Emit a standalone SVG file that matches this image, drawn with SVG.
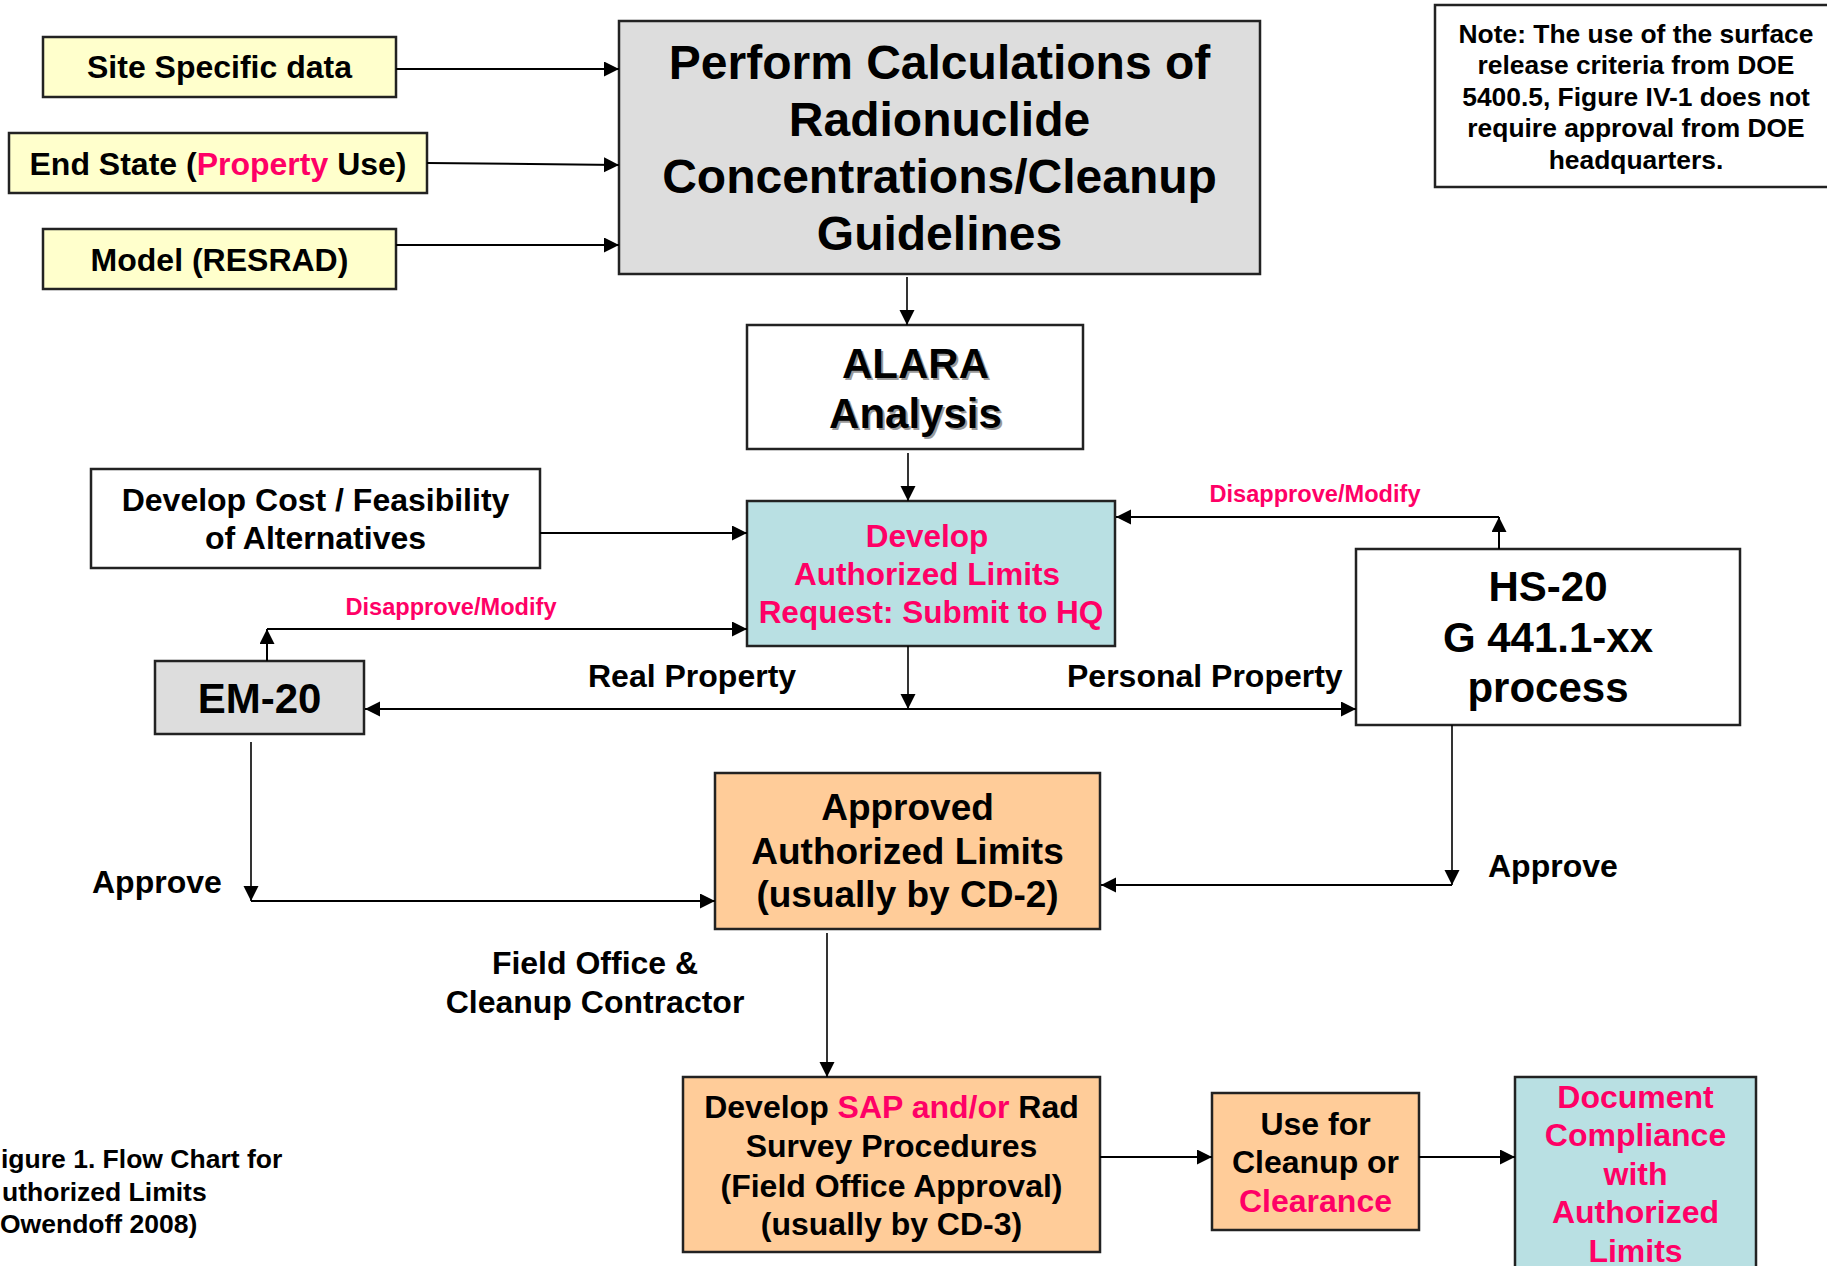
<svg xmlns="http://www.w3.org/2000/svg" width="1827" height="1266" viewBox="0 0 1827 1266">
<defs>
<marker id="ah" markerUnits="userSpaceOnUse" markerWidth="16" markerHeight="16" refX="15" refY="7.5" orient="auto">
<path d="M0,0 L15,7.5 L0,15 z" fill="#000"/>
</marker>
<style>
text{font-family:"Liberation Sans",Arial,Helvetica,sans-serif;font-weight:bold;fill:#000}
.box{stroke:#222;stroke-width:2.5}
.yel{fill:#FFFFCC}
.gry{fill:#DDDDDD}
.wht{fill:#FFFFFF}
.cyn{fill:#B9E0E3}
.org{fill:#FFCC99}
.pk{fill:#FF0066}
.c{text-anchor:middle}
.conn path{fill:none;stroke:#000;stroke-width:2}
.arr{marker-end:url(#ah)}
.shadow{fill:#9a9a9a}
</style>
</defs>
<rect x="0" y="0" width="1827" height="1266" fill="#FFFFFF"/>

<g id="site-data">
<rect class="box yel" x="43" y="37" width="353" height="60"/>
<text class="c" x="219.5" y="78" font-size="32">Site Specific data</text>
</g>
<g id="end-state">
<rect class="box yel" x="9" y="133" width="418" height="60"/>
<text class="c" x="218" y="175" font-size="32">End State (<tspan class="pk">Property</tspan> Use)</text>
</g>
<g id="model">
<rect class="box yel" x="43" y="229" width="353" height="60"/>
<text class="c" x="219.5" y="271" font-size="32">Model (RESRAD)</text>
</g>

<g id="perform-calc">
<rect class="box gry" x="619" y="21" width="641" height="253"/>
<text class="c" x="939.5" y="79" font-size="48">Perform Calculations of</text>
<text class="c" x="939.5" y="136" font-size="48">Radionuclide</text>
<text class="c" x="939.5" y="193" font-size="48">Concentrations/Cleanup</text>
<text class="c" x="939.5" y="250" font-size="48">Guidelines</text>
</g>

<g id="note">
<rect class="box wht" x="1435" y="5" width="400" height="182"/>
<text class="c" x="1636" y="43" font-size="26.4">Note: The use of the surface</text>
<text class="c" x="1636" y="74" font-size="26.4">release criteria from DOE</text>
<text class="c" x="1636" y="106" font-size="26.4">5400.5, Figure IV-1 does not</text>
<text class="c" x="1636" y="137" font-size="26.4">require approval from DOE</text>
<text class="c" x="1636" y="169" font-size="26.4">headquarters.</text>
</g>

<g id="alara">
<rect class="box wht" x="747" y="325" width="336" height="124"/>
<text class="c shadow" x="917.5" y="379.5" font-size="42">ALARA</text>
<text class="c shadow" x="917.5" y="429.5" font-size="42">Analysis</text>
<text class="c" x="915.5" y="377.5" font-size="42">ALARA</text>
<text class="c" x="915.5" y="427.5" font-size="42">Analysis</text>
</g>

<g id="develop-cost">
<rect class="box wht" x="91" y="469" width="449" height="99"/>
<text class="c" x="315.5" y="511" font-size="32">Develop Cost / Feasibility</text>
<text class="c" x="315.5" y="549" font-size="32">of Alternatives</text>
</g>

<g id="develop-limits">
<rect class="box cyn" x="747" y="501" width="368" height="145"/>
<text class="c pk" x="927" y="547" font-size="31.5">Develop</text>
<text class="c pk" x="927" y="585" font-size="31.5">Authorized Limits</text>
<text class="c pk" x="931" y="623" font-size="31.5">Request: Submit to HQ</text>
</g>

<g id="hs20">
<rect class="box wht" x="1356" y="549" width="384" height="176"/>
<text class="c" x="1548" y="601" font-size="42">HS-20</text>
<text class="c" x="1548" y="652" font-size="42">G 441.1-xx</text>
<text class="c" x="1548" y="702" font-size="42">process</text>
</g>

<g id="em20">
<rect class="box gry" x="155" y="661" width="209" height="73"/>
<text class="c" x="259.5" y="713" font-size="42">EM-20</text>
</g>

<g id="approved-limits">
<rect class="box org" x="715" y="773" width="385" height="156"/>
<text class="c" x="907.5" y="820" font-size="37">Approved</text>
<text class="c" x="907.5" y="864" font-size="37">Authorized Limits</text>
<text class="c" x="907.5" y="907" font-size="37">(usually by CD-2)</text>
</g>

<g id="develop-sap">
<rect class="box org" x="683" y="1077" width="417" height="175"/>
<text class="c" x="891.5" y="1118" font-size="32">Develop <tspan class="pk">SAP and/or</tspan> Rad</text>
<text class="c" x="891.5" y="1157" font-size="32">Survey Procedures</text>
<text class="c" x="891.5" y="1197" font-size="32">(Field Office Approval)</text>
<text class="c" x="891.5" y="1235" font-size="32">(usually by CD-3)</text>
</g>

<g id="use-for-cleanup">
<rect class="box org" x="1212" y="1093" width="207" height="137"/>
<text class="c" x="1315.5" y="1135" font-size="32">Use for</text>
<text class="c" x="1315.5" y="1173" font-size="32">Cleanup or</text>
<text class="c pk" x="1315.5" y="1212" font-size="32">Clearance</text>
</g>

<g id="document-compliance">
<rect class="box cyn" x="1515" y="1077" width="241" height="200"/>
<text class="c pk" x="1635.5" y="1108" font-size="32">Document</text>
<text class="c pk" x="1635.5" y="1146" font-size="32">Compliance</text>
<text class="c pk" x="1635.5" y="1185" font-size="32">with</text>
<text class="c pk" x="1635.5" y="1223" font-size="32">Authorized</text>
<text class="c pk" x="1635.5" y="1262" font-size="32">Limits</text>
</g>

<g id="connectors" class="conn">
<path class="arr" d="M396,69 L619,69"/>
<path class="arr" d="M427,163 L619,165"/>
<path class="arr" d="M396,245 L619,245"/>
<path class="arr" d="M907,277 L907,325" style="stroke-width:1.6"/>
<path class="arr" d="M908,453 L908,501" style="stroke-width:1.6"/>
<path class="arr" d="M540,533 L747,533"/>
<path class="arr" d="M267,661 L267,629"/>
<path class="arr" d="M267,629 L747,629"/>
<path class="arr" d="M1499,549 L1499,517"/>
<path class="arr" d="M1499,517 L1116,517"/>
<path class="arr" d="M908,646 L908,709" style="stroke-width:1.6"/>
<path class="arr" d="M908,709 L365,709"/>
<path class="arr" d="M908,709 L1356,709"/>
<path class="arr" d="M251,742 L251,901" style="stroke-width:1.6"/>
<path class="arr" d="M251,901 L715,901"/>
<path class="arr" d="M1452,725 L1452,885" style="stroke-width:1.6"/>
<path class="arr" d="M1452,885 L1101,885"/>
<path class="arr" d="M827,933 L827,1077" style="stroke-width:1.6"/>
<path class="arr" d="M1100,1157 L1212,1157"/>
<path class="arr" d="M1419,1157 L1515,1157"/>
</g>

<g id="labels">
<text class="c pk" x="451" y="615" font-size="23.6">Disapprove/Modify</text>
<text class="c pk" x="1315" y="502" font-size="23.6">Disapprove/Modify</text>
<text x="588" y="687" font-size="32">Real Property</text>
<text x="1067" y="687" font-size="32">Personal Property</text>
<text x="92" y="893" font-size="32">Approve</text>
<text x="1488" y="877" font-size="32">Approve</text>
<text class="c" x="595" y="974" font-size="32">Field Office &amp;</text>
<text class="c" x="595" y="1013" font-size="32">Cleanup Contractor</text>
</g>

<g id="caption">
<text x="1" y="1168" font-size="26.5">igure 1. Flow Chart for</text>
<text x="2" y="1201" font-size="26.5">uthorized Limits</text>
<text x="0" y="1233" font-size="26.5">Owendoff 2008)</text>
</g>
</svg>
